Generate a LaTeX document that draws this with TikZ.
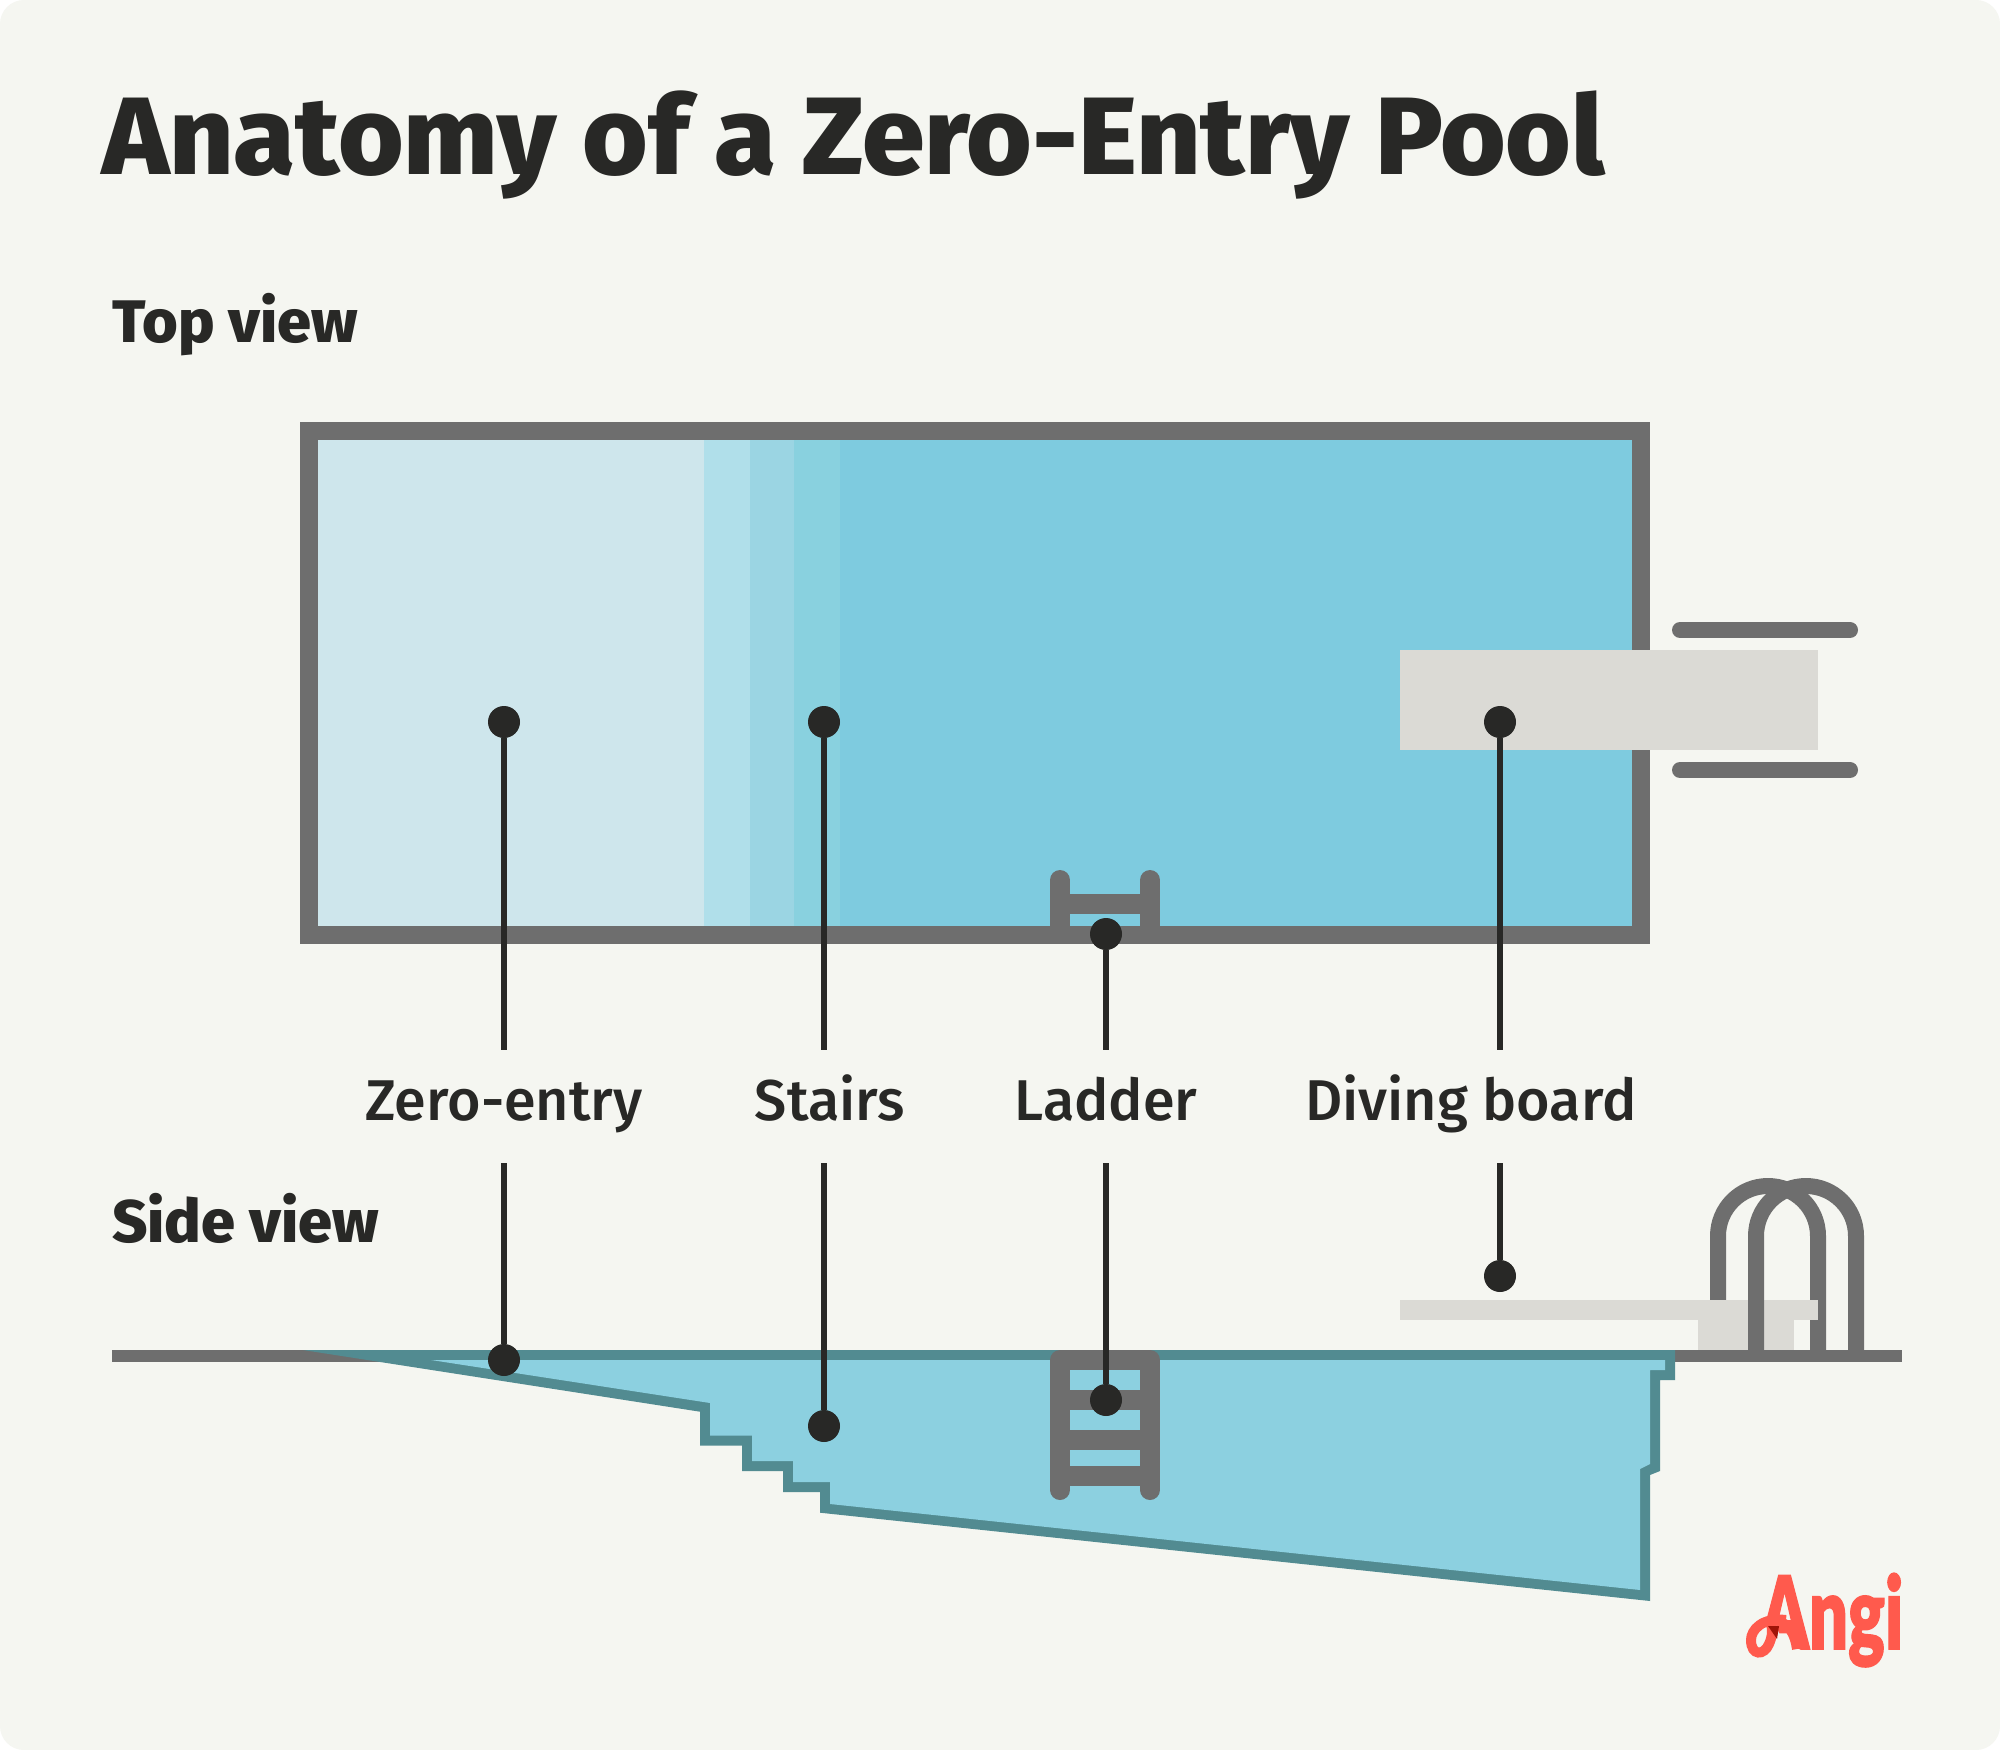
\documentclass[tikz,border=0pt]{standalone}
\usepackage{fontspec}
\setmainfont{Fira Sans}
\newfontfamily\titlefam[FakeStretch=1.023]{Fira Sans ExtraBold}
\newfontfamily\viewfam[FakeStretch=1.02]{Fira Sans ExtraBold}
\newfontfamily\labelfam{Fira Sans Medium}
\newfontfamily\logofam[FakeBold=1.5]{Lato Black}
\definecolor{bgc}{HTML}{F5F6F1}
\definecolor{ink}{HTML}{282826}
\definecolor{wall}{HTML}{6E6E6E}
\definecolor{boardc}{HTML}{DBDAD5}
\definecolor{teal}{HTML}{528B91}
\definecolor{waterside}{HTML}{8CD0E0}
\definecolor{waterA}{HTML}{CEE6EC}
\definecolor{waterB}{HTML}{B0DFEA}
\definecolor{waterC}{HTML}{9BD5E3}
\definecolor{waterD}{HTML}{89D1DF}
\definecolor{waterE}{HTML}{7ECBDF}
\definecolor{angi}{HTML}{FF5A4D}
\definecolor{angidark}{HTML}{A01408}
\tikzset{
  titletext/.style={anchor=base west,inner sep=0pt,text=ink,font=\titlefam\fontsize{110}{120}\selectfont},
  viewtext/.style={anchor=base west,inner sep=0pt,text=ink,font=\viewfam\fontsize{60}{70}\selectfont},
  labeltext/.style={anchor=base,inner sep=0pt,text=ink,font=\labelfam\fontsize{57.5}{68}\selectfont},
  pin/.style={circle,fill=ink,inner sep=0pt,minimum size=32pt},
  lead/.style={draw=ink,line width=6pt},
  rail/.style={draw=wall,line width=16pt},
  bar/.style={draw=wall,line width=16pt,line cap=round},
  ladder/.style={draw=wall,line width=20pt,line cap=round,line join=round},
  rung/.style={draw=wall,line width=20pt},
}
\begin{document}
\begin{tikzpicture}[x=1pt,y=-1pt]
\useasboundingbox (0,0) rectangle (2000,1750);
\fill[white] (0,0) rectangle (2000,1750);
\fill[bgc,rounded corners=24pt] (0,0) rectangle (2000,1750);

\node[titletext] (title) at (102,175) {Anatomy of a Zero-Entry Pool};
\node[viewtext] (topview) at (112,342) {Top view};
\node[viewtext] (sideview) at (112,1242) {Side view};

% top view
\fill[wall] (300,422) rectangle (1650,944);
\fill[waterE] (318,440) rectangle (1632,926);
\fill[waterA] (318,440) rectangle (704,926);
\fill[waterB] (704,440) rectangle (750,926);
\fill[waterC] (750,440) rectangle (794,926);
\fill[waterD] (794,440) rectangle (840,926);
\draw[ladder] (1060,880) -- (1060,930);
\draw[ladder] (1150,880) -- (1150,930);
\draw[rung] (1060,904) -- (1150,904);
\draw[bar] (1680,630) -- (1850,630);
\draw[bar] (1680,770) -- (1850,770);
\fill[boardc] (1400,650) rectangle (1818,750);

% side view
\draw[rail] (1718,1310) -- (1718,1236) arc[start angle=180,end angle=0,radius=50pt] -- (1818,1350);
\fill[boardc] (1400,1300) rectangle (1818,1320);
\fill[boardc] (1698,1320) rectangle (1794,1350);
\draw[rail] (1756,1350) -- (1756,1236) arc[start angle=180,end angle=0,radius=50pt] -- (1856,1350);
\fill[wall] (112,1350) rectangle (1902,1362);
\fill[teal] (303,1350) -- (1675,1350) -- (1675,1380) -- (1660,1380) -- (1660,1471) -- (1650,1475)
  -- (1650,1601) -- (820,1512.7) -- (820,1492) -- (783,1492) -- (783,1471) -- (742,1471)
  -- (742,1445.7) -- (700,1445.7) -- (700,1411.7) -- cycle;
\fill[waterside] (431,1360) -- (1665,1360) -- (1665,1370) -- (1650,1370) -- (1650,1464) -- (1640,1469)
  -- (1640,1590) -- (830,1504) -- (830,1482) -- (793,1482) -- (793,1461) -- (752,1461)
  -- (752,1435.7) -- (710,1435.7) -- (710,1403) -- cycle;
\draw[ladder] (1060,1490) -- (1060,1360) -- (1150,1360) -- (1150,1490);
\draw[rung] (1060,1400) -- (1150,1400);
\draw[rung] (1060,1440) -- (1150,1440);
\draw[rung] (1060,1476) -- (1150,1476);

% labels
\node[labeltext] (lzero) at (504,1120) {Zero-entry};
\node[labeltext] (lstairs) at (830,1120) {Stairs};
\node[labeltext] (lladder) at (1106,1120) {Ladder};
\node[labeltext] (ldiving) at (1471,1120) {Diving board};

% pins
\node[pin] (tzero) at (504,722) {};
\node[pin] (tstairs) at (824,722) {};
\node[pin] (tladder) at (1106,934) {};
\node[pin] (tdiving) at (1500,722) {};
\node[pin] (szero) at (504,1360) {};
\node[pin] (sstairs) at (824,1426) {};
\node[pin] (sladder) at (1106,1400) {};
\node[pin] (sdiving) at (1500,1276) {};
\coordinate (azero) at (504,1050);
\coordinate (astairs) at (824,1050);
\coordinate (aladder) at (1106,1050);
\coordinate (adiving) at (1500,1050);
\coordinate (bzero) at (504,1163);
\coordinate (bstairs) at (824,1163);
\coordinate (bladder) at (1106,1163);
\coordinate (bdiving) at (1500,1163);
\draw[lead] (tzero) -- (azero);
\draw[lead] (tstairs) -- (astairs);
\draw[lead] (tladder) -- (aladder);
\draw[lead] (tdiving) -- (adiving);
\draw[lead] (bzero) -- (szero);
\draw[lead] (bstairs) -- (sstairs);
\draw[lead] (bladder) -- (sladder);
\draw[lead] (bdiving) -- (sdiving);

% logo
\node[anchor=base west,inner sep=0pt,text=angi,xscale=0.68,transform shape,font=\logofam\fontsize{101}{110}\selectfont] (logo) at (1760,1649) {Angi};
\fill[bgc] (1745,1625) -- (1776,1625) -- (1787,1655) -- (1745,1660) -- cycle;
\draw[angi,line width=10pt] (1786,1620) .. controls (1762,1617) and (1751,1630) .. (1751,1640) .. controls (1751,1656) and (1764,1656) .. (1769,1644) .. controls (1772,1637) and (1773,1632) .. (1771,1624);
\draw[angi,line width=10pt] (1776,1620) .. controls (1790,1624) and (1795,1635) .. (1797,1649);
\fill[angidark] (1768,1626) -- (1779,1626) -- (1777,1639) -- cycle;
\end{tikzpicture}
\end{document}
